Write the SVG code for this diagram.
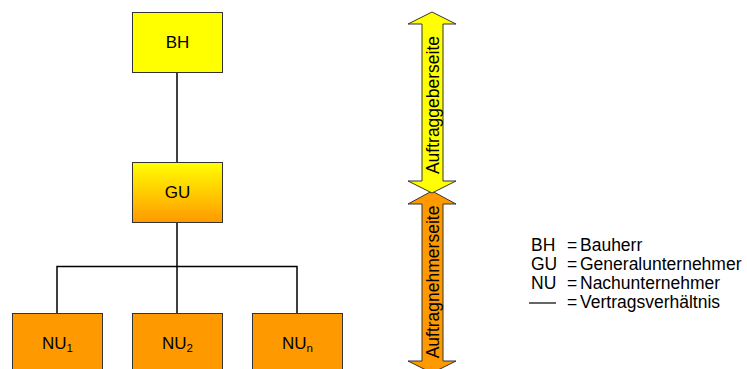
<svg xmlns="http://www.w3.org/2000/svg" width="747" height="369" viewBox="0 0 747 369">
<defs>
<linearGradient id="guGrad" x1="0" y1="0" x2="0" y2="1">
<stop offset="0" stop-color="#FFFF00"/>
<stop offset="1" stop-color="#FF9900"/>
</linearGradient>
<style>
text{font-family:"Liberation Sans",Arial,sans-serif;fill:#000}
.box{stroke:#333;stroke-width:1}
.lbl{font-size:17px;text-anchor:middle}
.conn{stroke:#000;stroke-width:1.5;fill:none}
.arrow{stroke:#333;stroke-width:1}
.vt{font-size:17.5px;text-anchor:middle}
.leg{font-size:17.5px}
</style>
</defs>
<rect width="747" height="369" fill="#fff"/>
<g id="connectors">
<line class="conn" x1="177" y1="72" x2="177" y2="163"/>
<line class="conn" x1="177" y1="223" x2="177" y2="313"/>
<polyline class="conn" points="57,313 57,266.5 297,266.5 297,313"/>
</g>
<g id="BH">
<rect class="box" x="132.5" y="12.5" width="90" height="60" fill="#FFFF00"/>
<text class="lbl" x="177.5" y="48">BH</text>
</g>
<g id="GU">
<rect class="box" x="132.5" y="162.5" width="90" height="60" fill="url(#guGrad)"/>
<text class="lbl" x="177.5" y="198">GU</text>
</g>
<g id="NU1">
<rect class="box" x="12.5" y="313.5" width="90" height="60" fill="#FF9900"/>
<text class="lbl" x="57.5" y="349">NU<tspan font-size="11.5" dy="3">1</tspan></text>
</g>
<g id="NU2">
<rect class="box" x="132.5" y="313.5" width="90" height="60" fill="#FF9900"/>
<text class="lbl" x="177.5" y="349">NU<tspan font-size="11.5" dy="3">2</tspan></text>
</g>
<g id="NUn">
<rect class="box" x="252.5" y="313.5" width="90" height="60" fill="#FF9900"/>
<text class="lbl" x="297.5" y="349">NU<tspan font-size="11.5" dy="3">n</tspan></text>
</g>
<g id="auftragnehmerseite">
<polygon class="arrow" fill="#FF9900" points="432,191 456,204 443,204 443,361 456,361 432,373 408,361 422,361 422,204 408,204"/>
<text class="vt" transform="translate(438.5,282) rotate(-90)">Auftragnehmerseite</text>
</g>
<g id="auftraggeberseite">
<polygon class="arrow" fill="#FFFF00" points="432,12 456,24 443,24 443,181 456,181 432,193 408,181 422,181 422,24 408,24"/>
<text class="vt" transform="translate(438.5,105) rotate(-90)">Auftraggeberseite</text>
</g>
<g id="legend">
<text class="leg" x="531" y="251">BH</text>
<text class="leg" x="567" y="251">=</text>
<text class="leg" x="580" y="251">Bauherr</text>
<text class="leg" x="531" y="270">GU</text>
<text class="leg" x="567" y="270">=</text>
<text class="leg" x="580" y="270">Generalunternehmer</text>
<text class="leg" x="531" y="289">NU</text>
<text class="leg" x="567" y="289">=</text>
<text class="leg" x="580" y="289">Nachunternehmer</text>
<line x1="529" y1="303" x2="556" y2="303" stroke="#000" stroke-width="1.2"/>
<text class="leg" x="567" y="308">=</text>
<text class="leg" x="580" y="308">Vertragsverhältnis</text>
</g>
</svg>
